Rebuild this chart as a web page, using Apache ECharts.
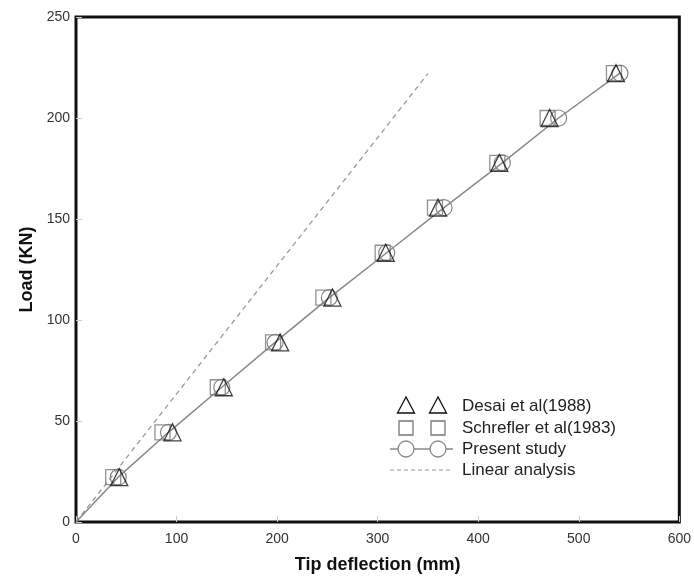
<!DOCTYPE html>
<html>
<head>
<meta charset="utf-8">
<script src="https://cdn.jsdelivr.net/npm/echarts@6/dist/echarts.min.js"></script>
<style>
  html, body { margin: 0; padding: 0; background: #fff; }
  #chart { width: 694px; height: 579px; }
</style>
</head>
<body>
<div id="chart"></div>
<script>
// 数据：荷载 (KN) 与端部挠度 (mm)
var loads = [22.2, 44.4, 66.7, 88.9, 111.1, 133.3, 155.6, 177.8, 200, 222.2];
var desaiX = [43, 96, 147, 203, 255, 308, 360, 421, 471, 537];
var schreflerX = [37, 86, 141, 196, 246, 305, 357, 419, 469, 535];
var presentX = [42, 92, 145, 198, 252, 309, 366, 424, 480, 541];
var linearX = [0, 350];
var linearY = [0, 222];

var xTicks = [0, 100, 200, 300, 400, 500, 600];
var yTicks = [0, 50, 100, 150, 200, 250];

function pairs(xs, ys) {
    return xs.map(function(x, i) { return [x, ys[i]]; });
}

var myChart = echarts.init(document.getElementById('chart'));

var hollow = 'rgba(0,0,0,0)';
var font = 'Liberation Sans, Arial, sans-serif';

// 现在研究的曲线从原点开始，原点不画符号
var presentData = [{ value: [0, 0], symbol: 'none' }].concat(pairs(presentX, loads));

// 图例用 graphic 画（每项两个符号）
var legendX1 = 406, legendX2 = 438, textX = 462;
var rows = [406, 428, 449, 470];
var legendGraphic = [];
function tri(cx, cy) {
    return { type: 'polygon', shape: { points: [[cx, cy - 9], [cx - 8.5, cy + 7], [cx + 8.5, cy + 7]] },
             style: { fill: null, stroke: '#111', lineWidth: 1.3 } };
}
function sq(cx, cy) {
    return { type: 'rect', shape: { x: cx - 7, y: cy - 7, width: 14, height: 14 },
             style: { fill: null, stroke: '#777', lineWidth: 1.3 } };
}
function circ(cx, cy) {
    return { type: 'circle', shape: { cx: cx, cy: cy, r: 8 },
             style: { fill: '#fff', stroke: '#888', lineWidth: 1.3 } };
}
function label(y, txt) {
    return { type: 'text', x: textX, y: y, style: { text: txt, font: '17px ' + font, fill: '#222', verticalAlign: 'middle' } };
}
legendGraphic.push(tri(legendX1, rows[0]), tri(legendX2, rows[0]), label(rows[0], 'Desai et al(1988)'));
legendGraphic.push(sq(legendX1, rows[1]), sq(legendX2, rows[1]), label(rows[1], 'Schrefler et al(1983)'));
legendGraphic.push({ type: 'line', shape: { x1: 390, y1: rows[2], x2: 453, y2: rows[2] }, style: { stroke: '#888', lineWidth: 1.5 } });
legendGraphic.push(circ(legendX1, rows[2]), circ(legendX2, rows[2]), label(rows[2], 'Present study'));
legendGraphic.push({ type: 'line', shape: { x1: 390, y1: rows[3], x2: 453, y2: rows[3] }, style: { stroke: '#999', lineWidth: 1.2, lineDash: [4, 3] } });
legendGraphic.push(label(rows[3], 'Linear analysis'));

var option = {
    animation: false,
    backgroundColor: '#fff',
    grid: {
        left: 76, top: 17, right: 11, bottom: 55,
        show: true, borderColor: '#111', borderWidth: 3
    },
    xAxis: {
        type: 'value', min: 0, max: 600, interval: 100,
        name: 'Tip deflection (mm)', nameLocation: 'middle', nameGap: 34,
        nameTextStyle: { fontFamily: font, fontWeight: 'bold', fontSize: 18, color: '#111' },
        axisLine: { show: false },
        axisTick: { show: true, inside: true, length: 6, lineStyle: { color: '#ccc' } },
        axisLabel: { fontFamily: font, fontSize: 14, color: '#333', margin: 10,
                     formatter: function(v) { return xTicks.indexOf(v) >= 0 ? String(v) : ''; } },
        splitLine: { show: false }
    },
    yAxis: {
        type: 'value', min: 0, max: 250, interval: 50,
        name: 'Load (KN)', nameLocation: 'middle', nameGap: 38,
        nameTextStyle: { fontFamily: font, fontWeight: 'bold', fontSize: 18, color: '#111' },
        axisLine: { show: false },
        axisTick: { show: true, inside: true, length: 6, lineStyle: { color: '#ccc' } },
        axisLabel: { fontFamily: font, fontSize: 14, color: '#333', margin: 6,
                     formatter: function(v) { return yTicks.indexOf(v) >= 0 ? String(v) : ''; } },
        splitLine: { show: false }
    },
    series: [
        {
            name: 'Linear analysis', type: 'line',
            data: pairs(linearX, linearY), showSymbol: false, symbol: 'none',
            lineStyle: { color: '#999', width: 1.3, type: [5, 4] }, z: 1
        },
        {
            name: 'Present study', type: 'line',
            data: presentData, symbol: 'circle', symbolSize: 16,
            itemStyle: { color: hollow, borderColor: '#888', borderWidth: 1.2 },
            lineStyle: { color: '#888', width: 1.5 }, z: 2
        },
        {
            name: 'Schrefler et al(1983)', type: 'scatter',
            data: pairs(schreflerX, loads), symbol: 'rect', symbolSize: 15,
            itemStyle: { color: hollow, borderColor: '#777', borderWidth: 1.3 }, z: 3
        },
        {
            name: 'Desai et al(1988)', type: 'scatter',
            data: pairs(desaiX, loads), symbol: 'triangle', symbolSize: [17, 17],
            itemStyle: { color: hollow, borderColor: '#111', borderWidth: 1.3 }, z: 4
        }
    ],
    graphic: legendGraphic
};

myChart.setOption(option);
</script>
</body>
</html>
